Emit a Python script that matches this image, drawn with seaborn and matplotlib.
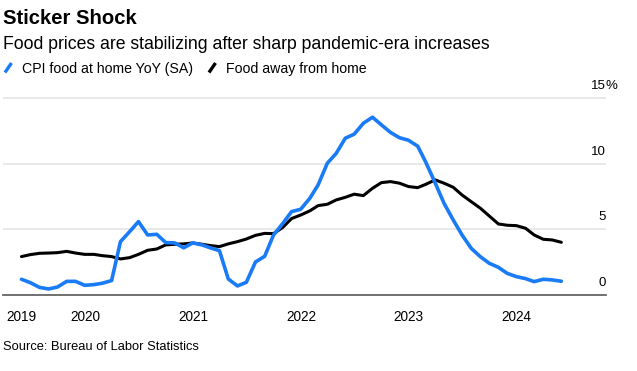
import numpy as np
import pandas as pd
import matplotlib
matplotlib.use("Agg")
import matplotlib.pyplot as plt
import matplotlib.dates as mdates
import seaborn as sns
from matplotlib.lines import Line2D
import datetime as dt

# ---- data (monthly, May 2019 - May 2024, year-over-year %) ----
first_month = "2019-05-01"
food_at_home = [
    1.2, 0.94, 0.58, 0.46, 0.61, 1.04, 1.04, 0.74,                      # 2019 May-Dec
    0.79, 0.9, 1.1, 4.07, 4.83, 5.6, 4.58, 4.63, 4.0, 3.97, 3.6, 3.97,  # 2020
    3.82, 3.6, 3.38, 1.22, 0.69, 0.97, 2.52, 2.95, 4.58, 5.45, 6.36, 6.54,  # 2021
    7.38, 8.4, 10.05, 10.8, 11.96, 12.27, 13.1, 13.56, 12.98, 12.4, 12.0, 11.8,  # 2022
    11.35, 10.1, 8.55, 7.0, 5.73, 4.58, 3.56, 2.92, 2.42, 2.11, 1.65, 1.4,  # 2023
    1.25, 1.02, 1.2, 1.15, 1.05,                                        # 2024 Jan-May
]
food_away = [
    2.93, 3.08, 3.18, 3.2, 3.23, 3.33, 3.2, 3.1,
    3.1, 3.0, 2.93, 2.75, 2.85, 3.1, 3.41, 3.51, 3.82, 3.87, 3.9, 3.97,
    3.87, 3.77, 3.69, 3.9, 4.07, 4.27, 4.55, 4.7, 4.68, 5.15, 5.83, 6.1,
    6.42, 6.82, 6.92, 7.25, 7.45, 7.69, 7.58, 8.14, 8.57, 8.65, 8.53, 8.27,
    8.19, 8.45, 8.78, 8.53, 8.22, 7.63, 7.12, 6.62, 6.03, 5.42, 5.32, 5.29,
    5.09, 4.58, 4.25, 4.2, 4.02,
]
series_names = ["CPI food at home YoY (SA)", "Food away from home"]
year_labels = ["2019", "2020", "2021", "2022", "2023", "2024"]
y_ticks = [0, 5, 10, 15]
y_labels = ["0", "5", "10", "15"]

title = "Sticker Shock"
subtitle = "Food prices are stabilizing after sharp pandemic-era increases"
source = "Source: Bureau of Labor Statistics"

BLUE = "#1a7bf7"
BLACK = "#000000"

sns.set_theme(style="white")
plt.rcParams["font.family"] = ["Liberation Sans", "DejaVu Sans"]
plt.rcParams["text.color"] = "black"
plt.rcParams["xtick.color"] = "black"

dates = pd.date_range(first_month, periods=len(food_at_home), freq="MS") + pd.offsets.MonthEnd(0)
df = pd.DataFrame({"date": dates, "home": food_at_home, "away": food_away})

W, H = 637, 371
fig = plt.figure(figsize=(W / 100, H / 100), dpi=100)
fig.patch.set_facecolor("white")

y0_px, px_per_unit = 295.0, 13.11
ytop = 15.5
ax_left, ax_right = 2.7, 605.7
ax_top_px = y0_px - ytop * px_per_unit
ax = fig.add_axes([ax_left / W, 1 - y0_px / H, (ax_right - ax_left) / W, (y0_px - ax_top_px) / H])
ax.set_facecolor("white")

sns.lineplot(data=df, x="date", y="away", color=BLACK, linewidth=2.2, ax=ax, zorder=3)
sns.lineplot(data=df, x="date", y="home", color=BLUE, linewidth=2.6, ax=ax, zorder=4)

# x range
ref2020 = mdates.date2num(dt.datetime(2020, 1, 1))
days_per_px = (mdates.date2num(dt.datetime(2024, 1, 1)) - ref2020) / (516.7 - 85.0)
ax.set_xlim(ref2020 + (ax_left - 85.0) * days_per_px, ref2020 + (ax_right - 85.0) * days_per_px)
ax.set_ylim(0, ytop)

tick_dates = [dates[0]] + [pd.Timestamp(f"{y}-01-01") for y in year_labels[1:]]
ax.set_xticks(mdates.date2num(tick_dates))
ax.set_xticklabels(year_labels, fontsize=9.8, color="black")
ax.tick_params(axis="x", direction="out", length=6, width=1, color="#777777", pad=5,
               labelcolor="black")

ax.set_yticks(y_ticks)
ax.set_yticklabels([])
ax.tick_params(axis="y", length=0)
ax.yaxis.grid(True, color="#e9e9e9", linewidth=1.4)
ax.set_axisbelow(True)
ax.set_xlabel("")
ax.set_ylabel("")

for s in ["left", "right", "top"]:
    ax.spines[s].set_visible(False)
ax.spines["bottom"].set_color("#666666")
ax.spines["bottom"].set_linewidth(1.3)
ax.spines["bottom"].set_zorder(5)

for v, lab in zip(y_ticks, y_labels):
    ax.annotate(lab, xy=(1, v), xycoords=("axes fraction", "data"), xytext=(0, 6.5),
                textcoords="offset points", ha="right", va="baseline", fontsize=9.5, color="black")
ax.annotate("%", xy=(1, y_ticks[-1]), xycoords=("axes fraction", "data"), xytext=(0, 6.5),
            textcoords="offset points", ha="left", va="baseline", fontsize=9.5, color="black")

# titles
fig.text(3.3 / W, 1 - 24 / H, title, fontsize=14.6, fontweight="bold", ha="left", va="baseline",
         color="black")
fig.text(3.3 / W, 1 - 49 / H, subtitle, fontsize=12.7, ha="left", va="baseline", color="black")

# legend
def legend_item(x_px, color, label):
    fig.add_artist(Line2D([(x_px) / W, (x_px + 6.5) / W], [1 - 72.5 / H, 1 - 63 / H],
                          color=color, linewidth=2.4, solid_capstyle="butt"))
    fig.text((x_px + 17.5) / W, 1 - 73.3 / H, label, fontsize=10.2, ha="left", va="baseline",
             color="black")

legend_item(5.0, BLUE, series_names[0])
legend_item(209.0, BLACK, series_names[1])

fig.text(3.3 / W, 1 - 350 / H, source, fontsize=9.3, ha="left", va="baseline", color="black")

fig.savefig("out.png", dpi=100, facecolor="white")
